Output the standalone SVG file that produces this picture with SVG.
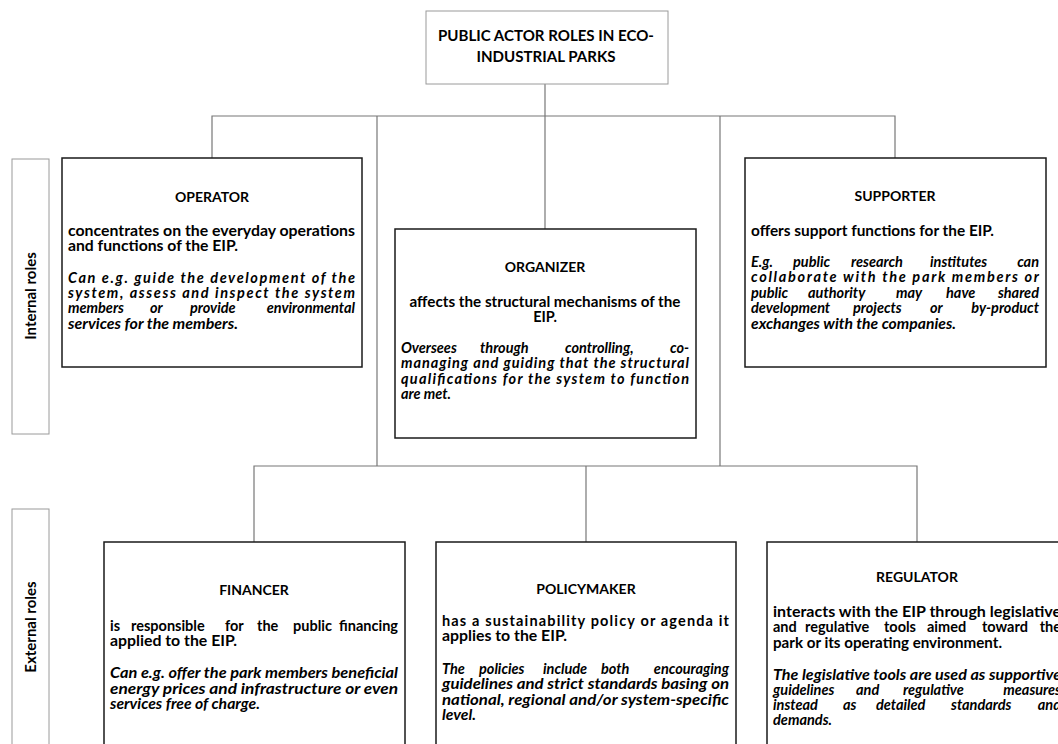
<svg xmlns="http://www.w3.org/2000/svg" width="1058" height="744" viewBox="0 0 1058 744">
<style>
.t{font-family:Lato,"Liberation Sans",sans-serif;font-weight:700;font-size:14.5px;fill:#000}
.h{font-size:14px}
.hd{font-size:15px}
.i{font-style:italic}
.c{text-anchor:middle}
.e{text-anchor:end}
.box{fill:#fff;stroke:#1a1a1a;stroke-width:1.5}
.lbl{fill:#fff;stroke:#9a9a9a;stroke-width:1}
.conn path{stroke:#777;stroke-width:1.2;fill:none}
</style>
<rect width="1058" height="744" fill="#fff"/>
<g id="connectors" class="conn">
<path d="M545 84V229"/>
<path d="M212 158V116H895V158"/>
<path d="M377 116V466"/>
<path d="M720 116V466"/>
<path d="M254 542V466H917V542"/>
<path d="M586 466V542"/>
</g>
<g id="title">
<rect x="426" y="11" width="242" height="73" class="lbl"/>
<text class="t hd c" x="546" y="41" textLength="216" lengthAdjust="spacingAndGlyphs">PUBLIC ACTOR ROLES IN ECO-</text>
<text class="t hd c" x="546" y="62" textLength="139" lengthAdjust="spacingAndGlyphs">INDUSTRIAL PARKS</text>
</g>
<g id="internal-roles">
<rect x="12" y="159" width="37" height="275" class="lbl"/>
<text class="t hd c" transform="translate(36 296) rotate(-90)">Internal roles</text>
</g>
<g id="external-roles">
<rect x="12" y="509" width="37" height="260" class="lbl"/>
<text class="t hd c" transform="translate(36 627) rotate(-90)">External roles</text>
</g>
<g id="operator">
<rect x="62" y="158" width="300" height="209" class="box"/>
<text class="t h c" x="212" y="202">OPERATOR</text>
<text class="t" x="68" y="236" textLength="287" lengthAdjust="spacingAndGlyphs">concentrates on the everyday operations</text>
<text class="t" x="68" y="251" textLength="170" lengthAdjust="spacingAndGlyphs">and functions of the EIP.</text>
<text class="t i" x="68" y="283" textLength="287" lengthAdjust="spacing">Can e.g. guide the development of the</text>
<text class="t i" x="68" y="298" textLength="287" lengthAdjust="spacing">system, assess and inspect the system</text>
<text class="t i" y="313"><tspan x="68">members</tspan><tspan x="150">or</tspan><tspan x="190">provide</tspan><tspan x="355" class="e">environmental</tspan></text>
<text class="t i" x="68" y="329" textLength="170" lengthAdjust="spacingAndGlyphs">services for the members.</text>
</g>
<g id="organizer">
<rect x="395" y="229" width="301" height="209" class="box"/>
<text class="t h c" x="545" y="272">ORGANIZER</text>
<text class="t c" x="545" y="307" textLength="271" lengthAdjust="spacingAndGlyphs">affects the structural mechanisms of the</text>
<text class="t c" x="545" y="322">EIP.</text>
<text class="t i" y="353"><tspan x="401">Oversees</tspan><tspan x="480">through</tspan><tspan x="565">controlling,</tspan><tspan x="689" class="e">co-</tspan></text>
<text class="t i" x="401" y="368" textLength="288" lengthAdjust="spacing">managing and guiding that the structural</text>
<text class="t i" x="401" y="384" textLength="288" lengthAdjust="spacing">qualifications for the system to function</text>
<text class="t i" x="401" y="399" textLength="50" lengthAdjust="spacingAndGlyphs">are met.</text>
</g>
<g id="supporter">
<rect x="745" y="158" width="301" height="209" class="box"/>
<text class="t h c" x="895" y="201">SUPPORTER</text>
<text class="t" x="751" y="236" textLength="243" lengthAdjust="spacingAndGlyphs">offers support functions for the EIP.</text>
<text class="t i" y="267"><tspan x="751">E.g.</tspan><tspan x="793">public</tspan><tspan x="851">research</tspan><tspan x="930">institutes</tspan><tspan x="1039" class="e">can</tspan></text>
<text class="t i" x="751" y="282" textLength="288" lengthAdjust="spacing">collaborate with the park members or</text>
<text class="t i" y="298"><tspan x="751">public</tspan><tspan x="808">authority</tspan><tspan x="896">may</tspan><tspan x="946">have</tspan><tspan x="1039" class="e">shared</tspan></text>
<text class="t i" y="313"><tspan x="751">development</tspan><tspan x="853">projects</tspan><tspan x="930">or</tspan><tspan x="1039" class="e">by-product</tspan></text>
<text class="t i" x="751" y="329" textLength="205" lengthAdjust="spacingAndGlyphs">exchanges with the companies.</text>
</g>
<g id="financer">
<rect x="104" y="542" width="301" height="230" class="box"/>
<text class="t h c" x="254" y="595">FINANCER</text>
<text class="t" y="631"><tspan x="110">is</tspan><tspan x="131">responsible</tspan><tspan x="225">for</tspan><tspan x="257">the</tspan><tspan x="293">public</tspan><tspan x="398" class="e">financing</tspan></text>
<text class="t" x="110" y="646" textLength="127" lengthAdjust="spacingAndGlyphs">applied to the EIP.</text>
<text class="t i" x="110" y="678" textLength="288" lengthAdjust="spacingAndGlyphs">Can e.g. offer the park members beneficial</text>
<text class="t i" x="110" y="694" textLength="288" lengthAdjust="spacingAndGlyphs">energy prices and infrastructure or even</text>
<text class="t i" x="110" y="709" textLength="150" lengthAdjust="spacingAndGlyphs">services free of charge.</text>
</g>
<g id="policymaker">
<rect x="436" y="542" width="300" height="230" class="box"/>
<text class="t h c" x="586" y="594">POLICYMAKER</text>
<text class="t" x="442" y="626" textLength="287" lengthAdjust="spacing">has a sustainability policy or agenda it</text>
<text class="t" x="442" y="641" textLength="125" lengthAdjust="spacingAndGlyphs">applies to the EIP.</text>
<text class="t i" y="674"><tspan x="442">The</tspan><tspan x="479">policies</tspan><tspan x="543">include</tspan><tspan x="601">both</tspan><tspan x="729" class="e">encouraging</tspan></text>
<text class="t i" x="442" y="689" textLength="287" lengthAdjust="spacingAndGlyphs">guidelines and strict standards basing on</text>
<text class="t i" x="442" y="705" textLength="287" lengthAdjust="spacingAndGlyphs">national, regional and/or system-specific</text>
<text class="t i" x="442" y="720" textLength="34" lengthAdjust="spacingAndGlyphs">level.</text>
</g>
<g id="regulator">
<rect x="767" y="542" width="301" height="230" class="box"/>
<text class="t h c" x="917" y="582">REGULATOR</text>
<text class="t" x="773" y="617" textLength="288" lengthAdjust="spacingAndGlyphs">interacts with the EIP through legislative</text>
<text class="t" y="632"><tspan x="773">and</tspan><tspan x="805">regulative</tspan><tspan x="884">tools</tspan><tspan x="927">aimed</tspan><tspan x="982">toward</tspan><tspan x="1061" class="e">the</tspan></text>
<text class="t" x="773" y="648" textLength="229" lengthAdjust="spacingAndGlyphs">park or its operating environment.</text>
<text class="t i" x="773" y="680" textLength="288" lengthAdjust="spacingAndGlyphs">The legislative tools are used as supportive</text>
<text class="t i" y="695"><tspan x="773">guidelines</tspan><tspan x="856">and</tspan><tspan x="903">regulative</tspan><tspan x="1061" class="e">measures</tspan></text>
<text class="t i" y="710"><tspan x="773">instead</tspan><tspan x="843">as</tspan><tspan x="876">detailed</tspan><tspan x="951">standards</tspan><tspan x="1061" class="e">and</tspan></text>
<text class="t i" x="773" y="725" textLength="59" lengthAdjust="spacingAndGlyphs">demands.</text>
</g>
</svg>
